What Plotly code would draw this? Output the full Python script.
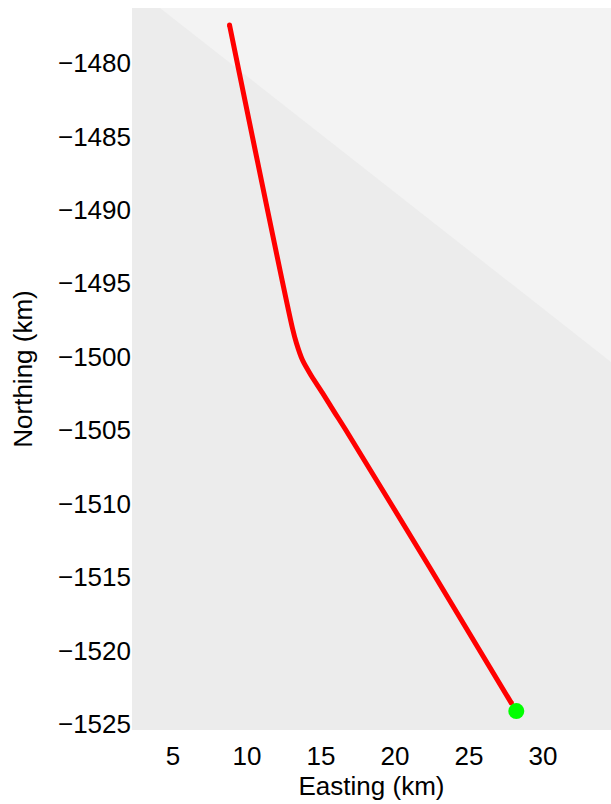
import plotly.graph_objects as go

# Track positions (km)
track_east = [8.82, 13.07, 13.34, 13.75, 14.36, 15.10, 15.91, 16.72, 22.33, 27.87]
track_north = [-1477.41, -1498.04, -1499.06, -1500.22, -1501.31, -1502.46,
               -1503.76, -1505.05, -1514.31, -1523.57]

# End position
end_east = [28.20]
end_north = [-1524.11]

# Boundary between the two background shades
shade_east = [4.12, 34.6]
shade_north = [-1476.26, -1500.35]

x_range = [2.23, 34.6]
y_range = [-1525.4, -1476.26]

x_ticks = [5, 10, 15, 20, 25, 30]
y_ticks = [-1480, -1485, -1490, -1495, -1500, -1505, -1510, -1515, -1520, -1525]

fig = go.Figure()

# lighter upper-right region
fig.add_trace(go.Scatter(
    x=[shade_east[0], x_range[1], shade_east[1], shade_east[0]],
    y=[shade_north[0], y_range[1], shade_north[1], shade_north[0]],
    fill="toself", fillcolor="#f3f3f3", mode="lines",
    line=dict(width=0, color="#f3f3f3"), hoverinfo="skip", showlegend=False,
))

# track line, with round caps at both ends
fig.add_trace(go.Scatter(
    x=track_east, y=track_north, mode="lines",
    line=dict(color="#ff0000", width=5, shape="spline", smoothing=0.8),
    showlegend=False,
))
fig.add_trace(go.Scatter(
    x=[track_east[0], track_east[-1]], y=[track_north[0], track_north[-1]],
    mode="markers", marker=dict(color="#ff0000", size=5),
    showlegend=False,
))

fig.add_trace(go.Scatter(
    x=end_east, y=end_north, mode="markers",
    marker=dict(color="#00ff00", size=16, symbol="circle"),
    showlegend=False,
))

font = dict(family="Liberation Sans, Arial, sans-serif", size=26, color="#000000")

fig.update_layout(
    width=611, height=804,
    margin=dict(l=132, r=0, t=8, b=74),
    paper_bgcolor="#ffffff",
    plot_bgcolor="#ececec",
    font=font,
    xaxis=dict(
        range=x_range, tickvals=x_ticks, showgrid=False, zeroline=False,
        showline=False, ticks="outside", ticklen=3, tickcolor="rgba(0,0,0,0)",
        tickfont=font, automargin=False,
        title=dict(text="Easting (km)", font=font, standoff=0),
    ),
    yaxis=dict(
        range=y_range, tickvals=y_ticks, showgrid=False, zeroline=False,
        showline=False, ticks="", ticklen=0,
        tickfont=font, automargin=False,
        title=dict(text="Northing (km)", font=font, standoff=17),
    ),
)

fig.write_html("out.html")
